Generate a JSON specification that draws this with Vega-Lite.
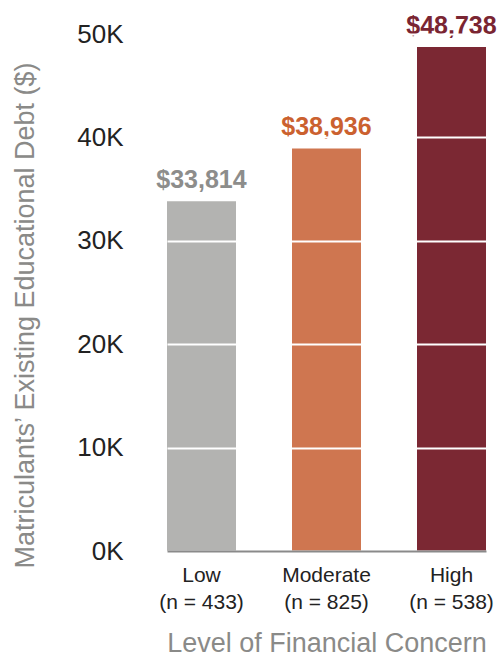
{
  "$schema": "https://vega.github.io/schema/vega-lite/v6.json",
  "autosize": "none",
  "width": 319,
  "height": 517,
  "padding": {"left": 167, "top": 34, "right": 13, "bottom": 107},
  "background": "white",
  "config": {
    "view": {"stroke": null},
    "font": "Liberation Sans"
  },
  "data": {
    "values": [
      {"level": "Low", "axisLabel": "Low\n(n = 433)", "debt": 33814},
      {"level": "Moderate", "axisLabel": "Moderate\n(n = 825)", "debt": 38936},
      {"level": "High", "axisLabel": "High\n(n = 538)", "debt": 48738}
    ]
  },
  "encoding": {
    "x": {
      "field": "axisLabel",
      "type": "nominal",
      "sort": null,
      "scale": {"paddingInner": 0.448, "paddingOuter": 0},
      "axis": {
        "title": "Level of Financial Concern",
        "titleFont": "Liberation Sans",
        "titleFontSize": 27,
        "titleFontWeight": "normal",
        "titleColor": "#8a8a88",
        "titleBaseline": "alphabetic",
        "titleY": 100,
        "labelExpr": "split(datum.label, '\\n')",
        "labelAngle": 0,
        "labelFont": "Liberation Sans",
        "labelFontSize": 21,
        "labelLineHeight": 27,
        "labelColor": "#222222",
        "labelPadding": 13,
        "labelBaseline": "top",
        "ticks": false,
        "tickSize": 0,
        "domainColor": "#8a8a8a",
        "domainWidth": 2,
        "zindex": 2
      }
    },
    "y": {
      "field": "debt",
      "type": "quantitative",
      "scale": {"domain": [0, 50000], "nice": false},
      "axis": {
        "title": "Matriculants’ Existing Educational Debt ($)",
        "titleFont": "Liberation Sans",
        "titleFontSize": 27,
        "titleFontWeight": "normal",
        "titleColor": "#8a8a88",
        "titleX": -142,
        "titleY": 281,
        "titleAlign": "center",
        "titleBaseline": "middle",
        "titleAngle": -90,
        "values": [0, 10000, 20000, 30000, 40000, 50000],
        "labelExpr": "(datum.value / 1000) + 'K'",
        "labelFont": "Liberation Sans",
        "labelFontSize": 26,
        "labelColor": "#222222",
        "labelPadding": 44,
        "ticks": false,
        "tickSize": 0,
        "domain": false,
        "grid": true,
        "gridColor": "white",
        "gridWidth": 2,
        "zindex": 1
      }
    }
  },
  "layer": [
    {
      "mark": {"type": "bar"},
      "encoding": {
        "color": {
          "field": "level",
          "type": "nominal",
          "scale": {"domain": ["Low", "Moderate", "High"], "range": ["#b3b3b1", "#cf7650", "#7b2833"]},
          "legend": null
        }
      }
    },
    {
      "mark": {"type": "text", "baseline": "alphabetic", "dy": -13, "fontSize": 25, "fontWeight": "bold", "font": "Liberation Sans"},
      "encoding": {
        "text": {"field": "debt", "type": "quantitative", "format": "$,.0f"},
        "color": {
          "field": "level",
          "type": "nominal",
          "scale": {"domain": ["Low", "Moderate", "High"], "range": ["#8d8d8b", "#cb612f", "#7a2532"]},
          "legend": null
        }
      }
    }
  ],
  "resolve": {"scale": {"color": "independent"}}
}
